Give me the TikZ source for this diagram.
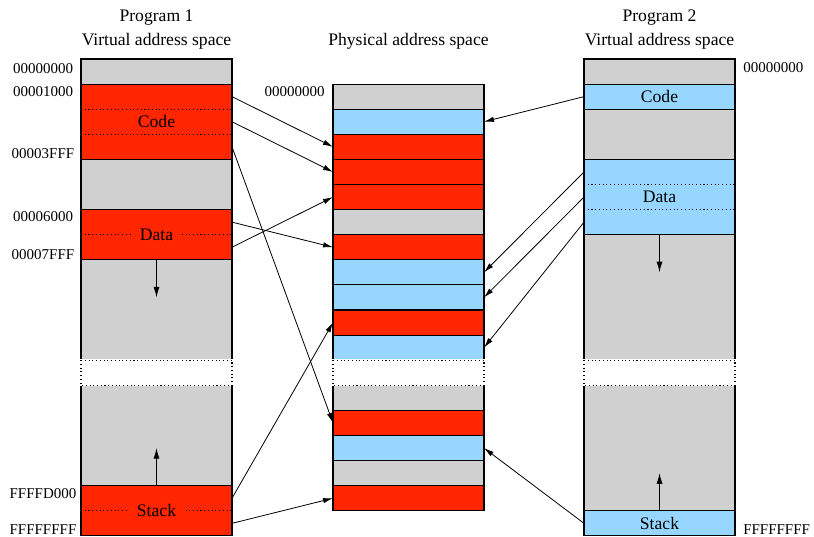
\documentclass[tikz,border=0pt]{standalone}
\usepackage{fontspec}
\setmainfont{Liberation Serif}
\usepackage{xcolor}
\usepackage{tikz}
\usetikzlibrary{arrows.meta,calc}

\definecolor{pagered}{RGB}{255,38,0}
\definecolor{pageblue}{RGB}{150,214,255}
\definecolor{pagegray}{RGB}{208,208,208}

\def\rowh{18.825pt}

\begin{document}
\begin{tikzpicture}[
    x=0.75pt, y=-\rowh,
    font=\fontsize{13.2}{15}\selectfont,
    seg/.style={draw, line width=0.8pt, minimum width=113.25pt, inner sep=0pt, outer sep=0pt, anchor=north west},
    rows/.style={minimum height=#1*\rowh},
    freeseg/.style={seg, fill=pagegray},
    redseg/.style={seg, fill=pagered},
    blueseg/.style={seg, fill=pageblue},
    gapseg/.style={seg, fill=white, draw=white, line width=1.6pt},
    tag/.style={inner xsep=6pt, inner ysep=1pt},
    head/.style={inner sep=0pt, anchor=base},
    addr/.style={inner sep=0pt, anchor=base, font=\fontsize{11.25}{13}\selectfont},
    split/.style={dotted, line width=0.8pt},
    link/.style={-{Latex[length=7.5pt,width=4pt]}, line width=0.6pt},
    growth/.style={-{Latex[length=8pt,width=4.5pt]}, line width=0.7pt}
]
    \useasboundingbox (0,-2.35) rectangle (814,19.04);

    % headings
    \node[head] (prog1) at (156.5,-1.51) {Program 1};
    \node[head] (virt1) at (156.5,-0.52) {Virtual address space};
    \node[head] (phys) at (408.5,-0.52) {Physical address space};
    \node[head] (prog2) at (659.5,-1.51) {Program 2};
    \node[head] (virt2) at (659.5,-0.52) {Virtual address space};

    % program 1
    \node[freeseg, rows=1] (lnull) at (81,0) {};
    \node[redseg, rows=3] (lcode) at (81,1) {Code};
    \node[freeseg, rows=2] (lhole) at (81,4) {};
    \node[redseg, rows=2] (ldata) at (81,6) {};
    \node[freeseg, rows=4] (lheap) at (81,8) {};
    \node[freeseg, rows=4] (lgrow) at (81,13) {};
    \node[redseg, rows=2] (lstack) at (81,17) {};
    \node[gapseg, rows=1] (lgap) at (81,12) {};
    \draw[split] (lgap.north west) rectangle (lgap.south east);
    \draw[split] (81,2) -- (232,2);
    \draw[split] (81,3) -- (232,3);
    \draw[split] (81,7) -- (232,7);
    \draw[split] (81,18) -- (232,18);
    \node[tag, fill=pagered] (ldatatag) at (ldata) {Data};
    \node[tag, fill=pagered] (lstacktag) at (lstack) {Stack};

    \node[addr] (a1) at (43,0.56) {00000000};
    \node[addr] (a2) at (43,1.51) {00001000};
    \node[addr] (a3) at (43,3.98) {00003FFF};
    \node[addr] (a4) at (43,6.49) {00006000};
    \node[addr] (a5) at (43,7.97) {00007FFF};
    \node[addr] (a6) at (43,17.53) {FFFFD000};
    \node[addr] (a7) at (43,18.95) {FFFFFFFF};

    % physical memory
    \foreach \c [count=\i] in {pagegray,pageblue,pagered,pagered,pagered,pagegray,pagered,pageblue,pageblue,pagered,pageblue,pagegray,pagered,pageblue,pagegray,pagered} {
        \pgfmathtruncatemacro\slottop{\i+(\i>11)}
        \node[seg, fill=\c, rows=1] (ph\i) at (333,\slottop) {};
    }
    \node[gapseg, rows=1] (pgap) at (333,12) {};
    \draw[split] (pgap.north west) rectangle (pgap.south east);
    \node[addr] (p1) at (294.5,1.51) {00000000};

    % program 2
    \node[freeseg, rows=1] (rnull) at (584,0) {};
    \node[blueseg, rows=1] (rcode) at (584,1) {Code};
    \node[freeseg, rows=2] (rhole) at (584,2) {};
    \node[blueseg, rows=3] (rdata) at (584,4) {Data};
    \node[freeseg, rows=5] (rheap) at (584,7) {};
    \node[freeseg, rows=5] (rgrow) at (584,13) {};
    \node[blueseg, rows=1] (rstack) at (584,18) {Stack};
    \node[gapseg, rows=1] (rgap) at (584,12) {};
    \draw[split] (rgap.north west) rectangle (rgap.south east);
    \draw[split] (584,5) -- (735,5);
    \draw[split] (584,6) -- (735,6);

    \node[addr, anchor=base west] (b1) at (743,0.52) {00000000};
    \node[addr, anchor=base west] (b2) at (743,18.95) {FFFFFFFF};

    % growth
    \path (lheap.north) ++(0,1.5) coordinate (lheaptip);
    \path (lgrow.south) ++(0,-1.5) coordinate (lgrowtip);
    \path (rheap.north) ++(0,1.5) coordinate (rheaptip);
    \path (rgrow.south) ++(0,-1.5) coordinate (rgrowtip);
    \draw[growth] (lheap.north) -- (lheaptip);
    \draw[growth] (lgrow.south) -- (lgrowtip);
    \draw[growth] (rheap.north) -- (rheaptip);
    \draw[growth] (rgrow.south) -- (rgrowtip);

    % page mappings
    \draw[link] ($(lcode.north east)!0.1667!(lcode.south east)$) -- (ph3.west);
    \draw[link] (lcode.east) -- (ph4.west);
    \draw[link] ($(lcode.north east)!0.8333!(lcode.south east)$) -- (ph13.west);
    \draw[link] ($(ldata.north east)!0.25!(ldata.south east)$) -- (ph7.west);
    \draw[link] ($(ldata.north east)!0.75!(ldata.south east)$) -- (ph5.west);
    \draw[link] ($(lstack.north east)!0.25!(lstack.south east)$) -- (ph10.west);
    \draw[link] ($(lstack.north east)!0.75!(lstack.south east)$) -- (ph16.west);
    \draw[link] (rcode.west) -- (ph2.east);
    \draw[link] ($(rdata.north west)!0.1667!(rdata.south west)$) -- (ph8.east);
    \draw[link] (rdata.west) -- (ph9.east);
    \draw[link] ($(rdata.north west)!0.8333!(rdata.south west)$) -- (ph11.east);
    \draw[link] (rstack.west) -- (ph14.east);
\end{tikzpicture}
\end{document}
